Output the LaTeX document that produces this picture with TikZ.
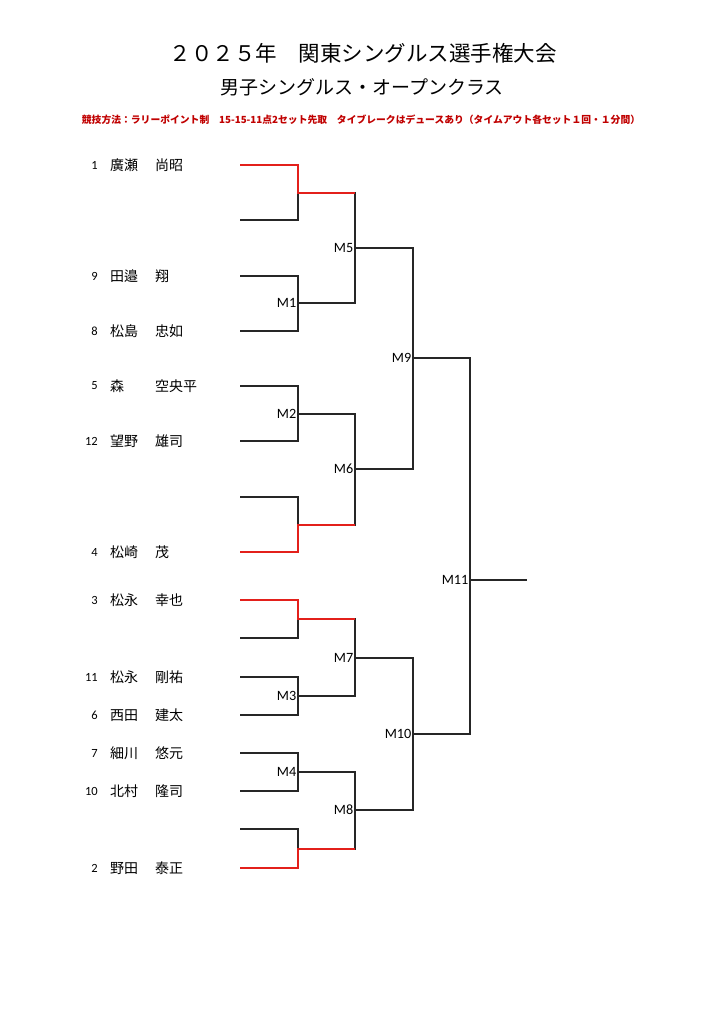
\documentclass[tikz,border=0pt]{standalone}
\usepackage{fontspec}
\setmainfont{Carlito}
\newfontfamily\jp{Noto Sans CJK JP}
\definecolor{rulered}{HTML}{C00000}
\definecolor{winred}{HTML}{E3201B}
\begin{document}
\begin{tikzpicture}[x=1pt,y=-1pt,
  line/.style={line width=1.5pt,black!85},
  win/.style={line width=2.8pt,winred},
  num/.style={anchor=east,inner sep=0pt,font=\fontsize{12.5}{12.5}\selectfont},
  player/.style={anchor=west,inner sep=0pt,font=\jp\fontsize{14}{14}\selectfont},
  match/.style={anchor=east,inner sep=1.5pt,font=\fontsize{14.2}{14.2}\selectfont}]
\useasboundingbox (0,0) rectangle (724,1024);

% headings
\node[font=\jp\fontsize{21.5}{21.5}\selectfont] (title) at (363,53) {２０２５年　関東シングルス選手権大会};
\node[font=\jp\fontsize{19}{19}\selectfont] (subtitle) at (362,87) {男子シングルス・オープンクラス};
\node[font=\jp\bfseries\fontsize{9.8}{9.8}\selectfont, text=rulered] (rules) at (361,120)
    {競技方法：ラリーポイント制　15-15-11点2セット先取　タイブレークはデュースあり（タイムアウト各セット１回・１分間）};

% slots
\coordinate (p1)  at (240,165);
\coordinate (p2)  at (240,220);
\coordinate (p3)  at (240,276);
\coordinate (p4)  at (240,331);
\coordinate (p5)  at (240,386);
\coordinate (p6)  at (240,441);
\coordinate (p7)  at (240,497);
\coordinate (p8)  at (240,552);
\coordinate (p9)  at (240,600);
\coordinate (p10) at (240,638);
\coordinate (p11) at (240,677);
\coordinate (p12) at (240,715);
\coordinate (p13) at (240,753);
\coordinate (p14) at (240,791);
\coordinate (p15) at (240,829);
\coordinate (p16) at (240,868);

% players
\node[num] (n1)  at (98,165) {1};
\node[player] (a1)  at (110,165) {\makebox[45pt][l]{廣瀬}尚昭};
\node[num] (n3)  at (98,276) {9};
\node[player] (a3)  at (110,276) {\makebox[45pt][l]{田邉}翔};
\node[num] (n4)  at (98,331) {8};
\node[player] (a4)  at (110,331) {\makebox[45pt][l]{松島}忠如};
\node[num] (n5)  at (98,386) {5};
\node[player] (a5)  at (110,386) {\makebox[45pt][l]{森}空央平};
\node[num] (n6)  at (98,441) {12};
\node[player] (a6)  at (110,441) {\makebox[45pt][l]{望野}雄司};
\node[num] (n8)  at (98,552) {4};
\node[player] (a8)  at (110,552) {\makebox[45pt][l]{松崎}茂};
\node[num] (n9)  at (98,600) {3};
\node[player] (a9)  at (110,600) {\makebox[45pt][l]{松永}幸也};
\node[num] (n11) at (98,677) {11};
\node[player] (a11) at (110,677) {\makebox[45pt][l]{松永}剛祐};
\node[num] (n12) at (98,715) {6};
\node[player] (a12) at (110,715) {\makebox[45pt][l]{西田}建太};
\node[num] (n13) at (98,753) {7};
\node[player] (a13) at (110,753) {\makebox[45pt][l]{細川}悠元};
\node[num] (n14) at (98,791) {10};
\node[player] (a14) at (110,791) {\makebox[45pt][l]{北村}隆司};
\node[num] (n16) at (98,868) {2};
\node[player] (a16) at (110,868) {\makebox[45pt][l]{野田}泰正};

% match points
\coordinate (b1)  at (298,193);
\coordinate (m1)  at (298,303);
\coordinate (m2)  at (298,414);
\coordinate (b2)  at (298,525);
\coordinate (b3)  at (298,619);
\coordinate (m3)  at (298,696);
\coordinate (m4)  at (298,772);
\coordinate (b4)  at (298,849);
\coordinate (m5)  at (355,248);
\coordinate (m6)  at (355,469);
\coordinate (m7)  at (355,658);
\coordinate (m8)  at (355,810);
\coordinate (m9)  at (413,358);
\coordinate (m10) at (413,734);
\coordinate (m11) at (470,580);
\coordinate (final) at (527,580);

% first round
\draw[line] (p3) -| (m1) |- (p4);
\draw[line] (p5) -| (m2) |- (p6);
\draw[line] (p11) -| (m3) |- (p12);
\draw[line] (p13) -| (m4) |- (p14);
\draw[line] (p2) -| (b1);
\draw[line] (p7) -| (b2);
\draw[line] (p10) -| (b3);
\draw[line] (p15) -| (b4);

% later rounds
\draw[line] (b1) -| (m5) |- (m1);
\draw[line] (m2) -| (m6) |- (b2);
\draw[line] (b3) -| (m7) |- (m3);
\draw[line] (m4) -| (m8) |- (b4);
\draw[line] (m5) -| (m9) |- (m6);
\draw[line] (m7) -| (m10) |- (m8);
\draw[line] (m9) -| (m11) |- (m10);
\draw[line] (m11) -- (final);

% seeds through
\draw[win] (p1) -| (b1) -- (b1 -| m5);
\draw[win] (p8) -| (b2) -- (b2 -| m6);
\draw[win] (p9) -| (b3) -- (b3 -| m7);
\draw[win] (p16) -| (b4) -- (b4 -| m8);

% labels
\node[match] (l1)  at (m1)  {M1};
\node[match] (l2)  at (m2)  {M2};
\node[match] (l3)  at (m3)  {M3};
\node[match] (l4)  at (m4)  {M4};
\node[match] (l5)  at (m5)  {M5};
\node[match] (l6)  at (m6)  {M6};
\node[match] (l7)  at (m7)  {M7};
\node[match] (l8)  at (m8)  {M8};
\node[match] (l9)  at (m9)  {M9};
\node[match] (l10) at (m10) {M10};
\node[match] (l11) at (m11) {M11};
\end{tikzpicture}
\end{document}
